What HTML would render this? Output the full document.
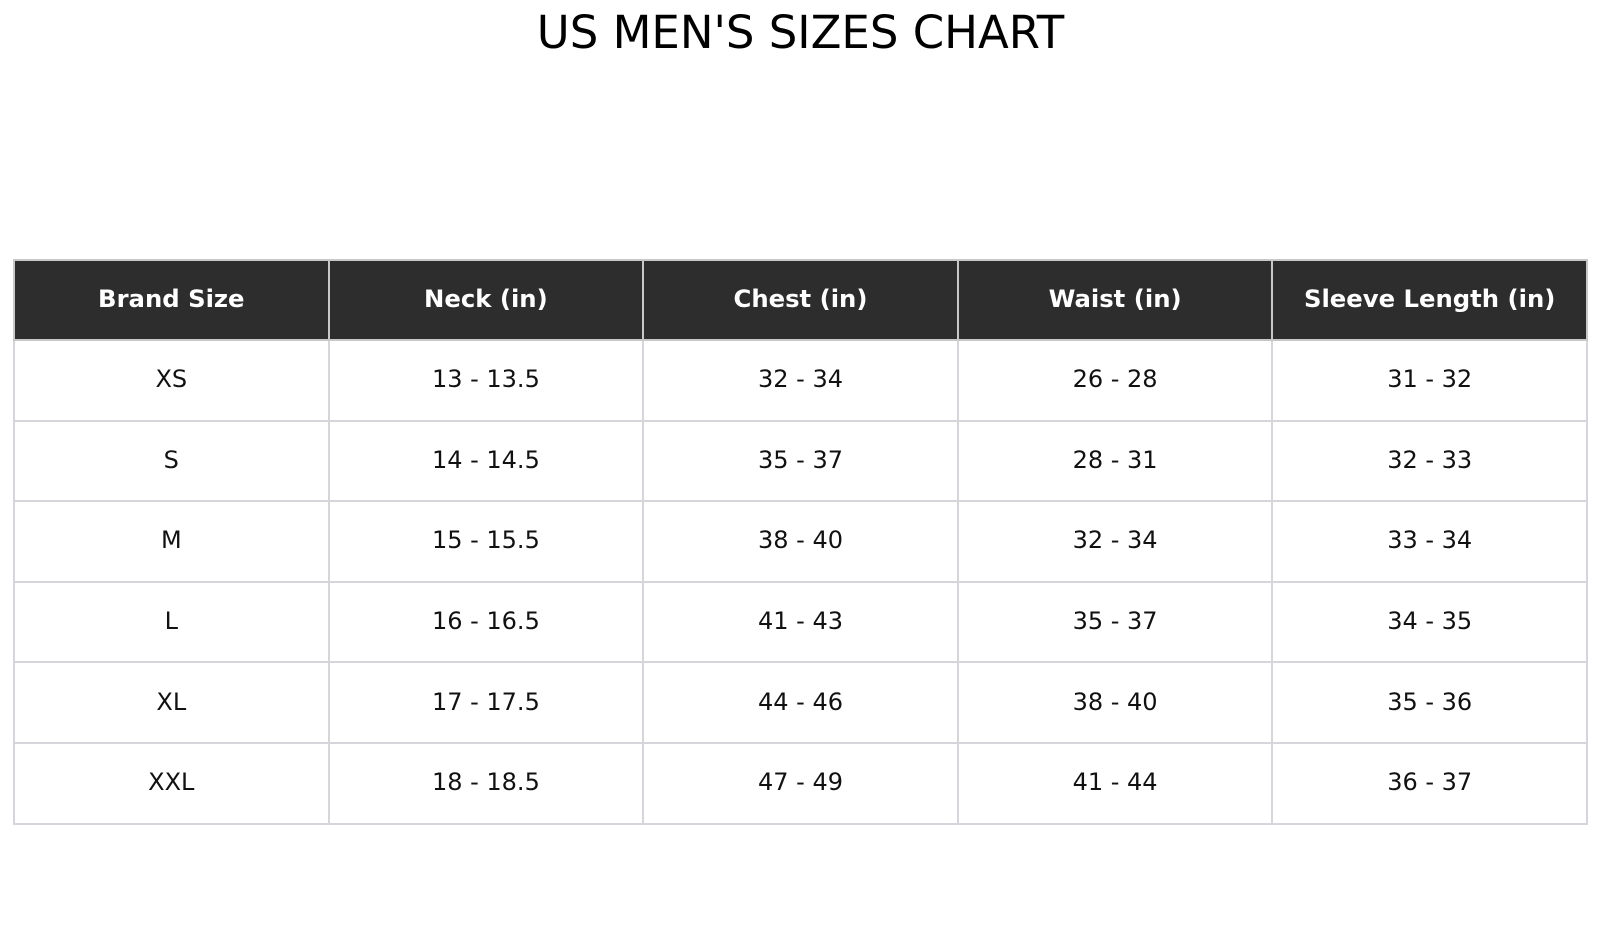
<!DOCTYPE html>
<html><head><meta charset="utf-8"><style>
body{margin:0;width:1600px;height:927px;background:#fff;font-family:"DejaVu Sans","Liberation Sans",sans-serif;position:relative;overflow:hidden}
h1{position:absolute;top:6px;left:0;width:1601px;margin:0;text-align:center;font-weight:normal;font-size:45px;line-height:54px;color:#000}
table{position:absolute;left:13px;top:259px;width:1575px;border-collapse:collapse;table-layout:fixed}
td,th{border:2px solid #d4d6db;text-align:center;font-size:24px;color:#111;height:76.6px;padding:0 0 2px 0}
th{background:#2d2d2d;color:#fff;font-weight:bold;font-size:24.3px;border-color:#c8c8c8;height:75px;padding-bottom:3px}
</style></head><body>
<h1>US MEN'S SIZES CHART</h1>
<table>
<tr><th>Brand Size</th><th>Neck (in)</th><th>Chest (in)</th><th>Waist (in)</th><th>Sleeve Length (in)</th></tr>
<tr><td>XS</td><td>13 - 13.5</td><td>32 - 34</td><td>26 - 28</td><td>31 - 32</td></tr>
<tr><td>S</td><td>14 - 14.5</td><td>35 - 37</td><td>28 - 31</td><td>32 - 33</td></tr>
<tr><td>M</td><td>15 - 15.5</td><td>38 - 40</td><td>32 - 34</td><td>33 - 34</td></tr>
<tr><td>L</td><td>16 - 16.5</td><td>41 - 43</td><td>35 - 37</td><td>34 - 35</td></tr>
<tr><td>XL</td><td>17 - 17.5</td><td>44 - 46</td><td>38 - 40</td><td>35 - 36</td></tr>
<tr><td>XXL</td><td>18 - 18.5</td><td>47 - 49</td><td>41 - 44</td><td>36 - 37</td></tr>
</table>
</body></html>
